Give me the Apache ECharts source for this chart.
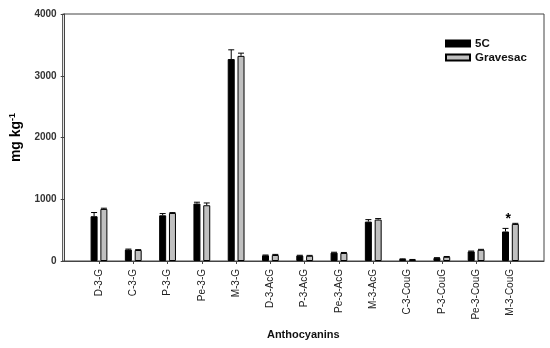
<!DOCTYPE html>
<html><head><meta charset="utf-8">
<script src="https://cdn.jsdelivr.net/npm/echarts@6/dist/echarts.min.js"></script>
<style>html,body{margin:0;padding:0;background:#fff}#c{width:550px;height:348px}</style>
</head><body><div id="c"></div>
<script>
var categories = ['D-3-G','C-3-G','P-3-G','Pe-3-G','M-3-G','D-3-AcG','P-3-AcG','Pe-3-AcG','M-3-AcG','C-3-CouG','P-3-CouG','Pe-3-CouG','M-3-CouG'];
var fiveC = [725, 185, 740, 930, 3270, 92, 88, 136, 638, 32, 50, 155, 478];
var fiveCErr = [60, 8, 28, 22, 150, 5, 5, 6, 32, 3, 4, 6, 50];
var gravesac = [843, 178, 778, 903, 3322, 97, 85, 130, 671, 22, 68, 181, 600];
var gravesacErr = [12, 6, 6, 37, 44, 10, 6, 8, 16, 3, 5, 8, 10];
var yTicks = [0, 1000, 2000, 3000, 4000];
var annotations = [[12.94, 724, '*']];

var positions = categories.map(function(c, i){ return i + 1; });
function pairs(vals){ return vals.map(function(v, i){ return [positions[i], v]; }); }
function errData(vals, errs){ return vals.map(function(v, i){ return [positions[i], v, v + errs[i]]; }); }

function errRender(offset){
  return function(params, api){
    var x = api.value(0), lo = api.value(1), hi = api.value(2);
    var p1 = api.coord([x, lo]), p2 = api.coord([x, hi]);
    var cx = p1[0] + offset, hw = 3;
    var st = {stroke: '#000', lineWidth: 1};
    return {type: 'group', children: [
      {type: 'line', shape: {x1: cx, y1: p1[1], x2: cx, y2: p2[1]}, style: st},
      {type: 'line', shape: {x1: cx - hw, y1: p2[1], x2: cx + hw, y2: p2[1]}, style: st}
    ]};
  };
}

var chart = echarts.init(document.getElementById('c'));
chart.setOption({
  animation: false,
  grid: {left: 62, right: 6, top: 14, bottom: 87, show: true, borderColor: '#444', borderWidth: 1},
  legend: {
    orient: 'vertical', left: 440, top: 32, icon: 'rect', itemWidth: 24, itemHeight: 6, itemGap: 1,
    data: ['5C', 'Gravesac'],
    textStyle: {fontFamily: 'Liberation Sans, Arial', fontWeight: 'bold', fontSize: 11.5, color: '#111', lineHeight: 13}
  },
  xAxis: {
    type: 'value', min: -0.06, max: 13.98,
    splitLine: {show: false},
    axisLine: {show: true, lineStyle: {color: '#444'}},
    axisTick: {show: true, length: 3, customValues: positions, lineStyle: {color: '#444'}},
    axisLabel: {
      customValues: positions, rotate: 90, margin: 8,
      fontFamily: 'Liberation Sans, Arial', fontSize: 10, color: '#222',
      formatter: function(v){ var i = Math.round(v) - 1; return categories[i] || ''; }
    },
    name: 'Anthocyanins', nameLocation: 'middle', nameGap: 68,
    nameTextStyle: {fontFamily: 'Liberation Sans, Arial', fontWeight: 'bold', fontSize: 11, color: '#111'}
  },
  yAxis: {
    type: 'value', min: yTicks[0], max: yTicks[yTicks.length - 1], interval: 1000,
    splitLine: {show: false},
    axisLine: {show: true, lineStyle: {color: '#444'}},
    axisTick: {show: true, length: 4, lineStyle: {color: '#444'}},
    axisLabel: {margin: 6, fontFamily: 'Liberation Sans, Arial', fontWeight: 'bold', fontSize: 10, color: '#333',
      formatter: function(v){ return String(v); }},
    name: '{a|mg kg}{b|-1}', nameLocation: 'middle', nameGap: 37,
    nameTextStyle: {
      rich: {
        a: {fontFamily: 'Liberation Sans, Arial', fontWeight: 'bold', fontSize: 14, color: '#000'},
        b: {fontFamily: 'Liberation Sans, Arial', fontWeight: 'bold', fontSize: 9, color: '#000', verticalAlign: 'top', padding: [0,0,8,0]}
      }
    }
  },
  series: [
    {name: '5C', type: 'bar', data: pairs(fiveC), barWidth: 7, barGap: '40%',
     itemStyle: {color: '#000', borderColor: '#000', borderWidth: 1}},
    {name: 'Gravesac', type: 'bar', data: pairs(gravesac), barWidth: 7, barGap: '40%',
     itemStyle: {color: '#c0c0c0', borderColor: '#000', borderWidth: 1}},
    {type: 'custom', data: errData(fiveC, fiveCErr), renderItem: errRender(-4.9), z: 5},
    {type: 'custom', data: errData(gravesac, gravesacErr), renderItem: errRender(4.9), z: 5},
    {type: 'custom', data: annotations, z: 6, renderItem: function(params, api){
      var p = api.coord([api.value(0), api.value(1)]);
      return {type: 'text', style: {text: annotations[params.dataIndex][2], x: p[0], y: p[1] + 3,
        align: 'center', verticalAlign: 'middle', fontFamily: 'Liberation Sans, Arial', fontWeight: 'bold', fontSize: 14, fill: '#000'}};
    }}
  ]
});
</script></body></html>
